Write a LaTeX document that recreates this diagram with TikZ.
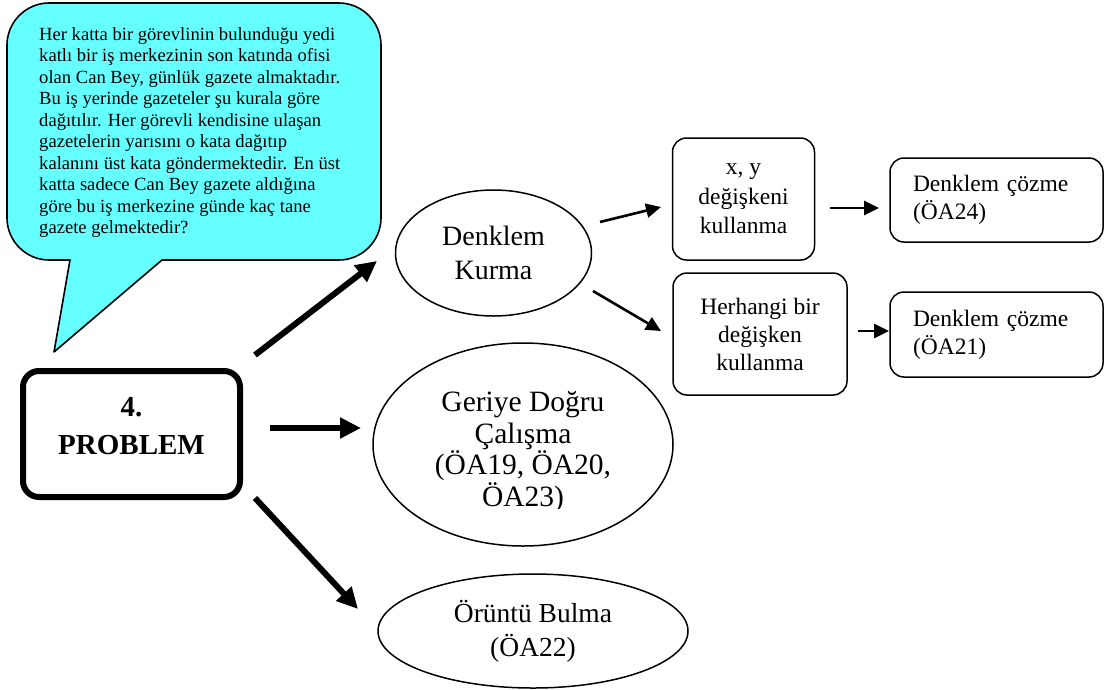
\documentclass[tikz,border=0pt]{standalone}
\usepackage{fontspec}
\setmainfont{Liberation Serif}
\usetikzlibrary{shapes.geometric,arrows.meta}
\definecolor{bubble}{RGB}{102,255,255}
\begin{document}
\begin{tikzpicture}[x=1pt,y=-1pt,
  thinbox/.style={draw, rounded corners=14pt, line width=1.5pt, inner sep=0pt, align=center, font=\fontsize{23.5}{29.5}\selectfont},
  leftbox/.style={draw, rounded corners=14pt, line width=1.5pt, inner xsep=23pt, inner ysep=0pt, text width=167pt, align=left, minimum width=213pt, font=\fontsize{23.5}{28}\selectfont},
  oval/.style={draw, ellipse, line width=1.5pt, inner sep=0pt, align=center},
  bigarrow/.style={line width=6pt, -{Triangle[length=21pt,width=20pt]}},
  smallarrow/.style={line width=2.6pt, -{Triangle[length=15pt,width=14pt]}}]
\useasboundingbox (0,0) rectangle (1105,689);

% speech bubble
\draw[fill=bubble, line width=1.6pt, line join=round]
  (70,260) -- (54,352) -- (162,260) -- (339,260)
  .. controls (362,260) and (381,241) .. (381,218) -- (381,45)
  .. controls (381,22) and (362,3) .. (339,3) -- (49,3)
  .. controls (26,3) and (7,22) .. (7,45) -- (7,218)
  .. controls (7,241) and (26,260) .. (49,260) -- cycle;
\node[anchor=north west, align=left, inner sep=0pt, font=\fontsize{18.6}{21.5}\selectfont] (question) at (39,27)
 {Her katta bir görevlinin bulunduğu yedi\\
  katlı bir iş merkezinin son katında ofisi\\
  olan Can Bey, günlük gazete almaktadır.\\
  Bu iş yerinde gazeteler şu kurala göre\\
  dağıtılır. Her görevli kendisine ulaşan\\
  gazetelerin yarısını o kata dağıtıp\\
  kalanını üst kata göndermektedir. En üst\\
  katta sadece Can Bey gazete aldığına\\
  göre bu iş merkezine günde kaç tane\\
  gazete gelmektedir?};

% problem box
\node[draw, rounded corners=16pt, line width=6pt, minimum width=217pt, minimum height=126pt] (prob) at (131.5,434) {};
\node[align=center, inner sep=0pt, font=\bfseries\fontsize{29}{38}\selectfont] (probtext) at (131.5,426) {4.\\PROBLEM};

% ellipses
\node[oval, minimum width=196pt, minimum height=126pt, font=\fontsize{28}{34}\selectfont] (dk) at (493.5,253) {Denklem\\Kurma};
\node[oval, minimum width=300pt, minimum height=203pt] (gd) at (523,444.5) {};
\begin{scope}
\clip (300,300) rectangle (700,508);
\node[align=center, inner sep=0pt, font=\fontsize{29.5}{31.5}\selectfont] (gdtext) at (523,452) {Geriye Doğru\\Çalışma\\(ÖA19, ÖA20,\\ÖA23)};
\end{scope}
\node[oval, minimum width=310pt, minimum height=114pt, font=\fontsize{27.5}{34}\selectfont] (ob) at (533,631) {Örüntü Bulma\\(ÖA22)};

% right boxes
\node[thinbox, minimum width=142pt, minimum height=122pt] (xy) at (743.5,199) {x, y\\değişkeni\\kullanma};
\node[thinbox, minimum width=174pt, minimum height=122pt, font=\fontsize{23.5}{28}\selectfont] (hb) at (760,334) {Herhangi bir\\değişken\\kullanma};
\node[leftbox, minimum height=84pt] (d24) at (996.5,200) {Denklem çözme\\(ÖA24)};
\node[leftbox, minimum height=85pt] (d21) at (996.5,334.5) {Denklem çözme\\(ÖA21)};

% connector end points
\coordinate (p1) at (255,355); \coordinate (q1) at (377,261);
\coordinate (p2) at (270,428); \coordinate (q2) at (361,428);
\coordinate (p3) at (255,498); \coordinate (q3) at (358,609);
\coordinate (p4) at (600,222); \coordinate (q4) at (661,207);
\coordinate (p5) at (593,291); \coordinate (q5) at (661,331);
\coordinate (p6) at (830,208); \coordinate (q6) at (879,208);
\coordinate (p7) at (858,331); \coordinate (q7) at (889,331);

\draw[bigarrow] (p1) -- (q1);
\draw[bigarrow] (p2) -- (q2);
\draw[bigarrow] (p3) -- (q3);
\draw[smallarrow] (p4) -- (q4);
\draw[smallarrow] (p5) -- (q5);
\draw[smallarrow] (p6) -- (q6);
\draw[smallarrow] (p7) -- (q7);
\end{tikzpicture}
\end{document}
